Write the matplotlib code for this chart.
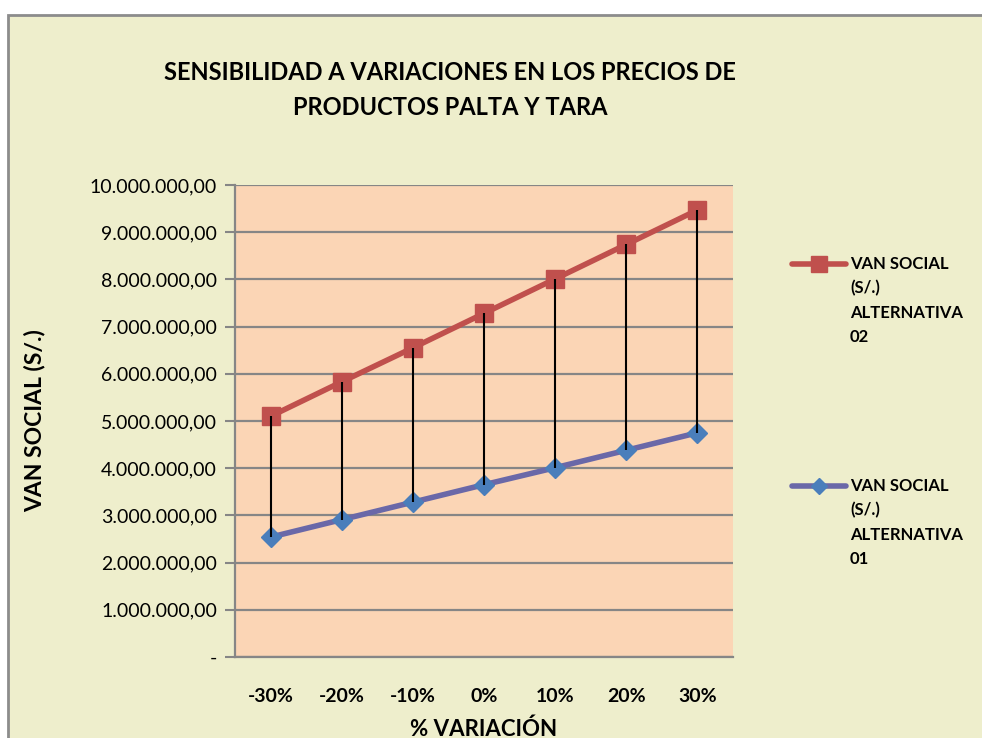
import matplotlib.pyplot as plt
from matplotlib.lines import Line2D
from matplotlib.patches import Rectangle
from matplotlib.ticker import FuncFormatter

variaciones = ['-30%', '-20%', '-10%', '0%', '10%', '20%', '30%']
van_alt02 = [5.10e6, 5.83e6, 6.55e6, 7.28e6, 8.01e6, 8.74e6, 9.47e6]
van_alt01 = [2.54e6, 2.91e6, 3.28e6, 3.65e6, 4.01e6, 4.38e6, 4.75e6]
y_ticks = [0, 1e6, 2e6, 3e6, 4e6, 5e6, 6e6, 7e6, 8e6, 9e6, 10e6]
label_alt02 = ['VAN SOCIAL', '(S/.)', 'ALTERNATIVA', '02']
label_alt01 = ['VAN SOCIAL', '(S/.)', 'ALTERNATIVA', '01']

RED = '#c0504d'
BLUE_LINE = '#6a68a8'
BLUE_MARK = '#4a7ebb'
CHART_BG = '#eeeecc'
PLOT_BG = '#fbd5b5'
GRID = '#868686'


def fmt_value(v, _):
    if v == 0:
        return '-'
    s = f'{v:,.2f}'
    return s.replace(',', 'X').replace('.', ',').replace('X', '.')


def main():
    plt.rcParams['font.family'] = ['Lato', 'DejaVu Sans']
    fig = plt.figure(figsize=(9.82, 7.38), dpi=100, facecolor='white')

    # chart area (Excel-style frame)
    fig.patches.append(Rectangle((8 / 982, -0.1), 1.1, 1 - 15 / 738 + 0.1,
                                 transform=fig.transFigure, facecolor=CHART_BG,
                                 edgecolor='#8c8c8c', linewidth=2, zorder=-5))

    ax = fig.add_axes([235 / 982, 1 - 657 / 738, 498 / 982, 472 / 738])
    ax.set_facecolor(PLOT_BG)
    x = list(range(len(variaciones)))

    ax.vlines(x, van_alt01, van_alt02, colors='black', linewidth=1.5, zorder=4)
    ax.plot(x, van_alt02, color=RED, linewidth=4, marker='s', markersize=13,
            markerfacecolor=RED, markeredgecolor=RED, zorder=3)
    ax.plot(x, van_alt01, color=BLUE_LINE, linewidth=4, marker='D',
            markersize=10, markerfacecolor=BLUE_MARK,
            markeredgecolor=BLUE_MARK, zorder=3)

    ax.set_xlim(-0.5, len(variaciones) - 0.5)
    ax.set_ylim(0, 10e6)
    ax.set_yticks(y_ticks)
    ax.yaxis.set_major_formatter(FuncFormatter(fmt_value))
    ax.set_xticks(x)
    ax.set_xticklabels(variaciones, fontweight='bold', fontsize=14)
    ax.tick_params(axis='x', length=0, pad=22)
    ax.tick_params(axis='y', length=7, width=1.5, color=GRID, pad=6,
                   labelsize=14)
    ax.grid(axis='y', color=GRID, linewidth=1.6)
    ax.set_axisbelow(True)
    for side in ['top', 'right']:
        ax.spines[side].set_visible(False)
    for side in ['left', 'bottom']:
        ax.spines[side].set_color(GRID)
        ax.spines[side].set_linewidth(1.6)

    ax.set_xlabel('% VARIACIÓN', fontweight='bold', fontsize=16, labelpad=10)
    ax.set_ylabel('VAN SOCIAL (S/.)', fontweight='bold', fontsize=16.5,
                  va='center')
    ax.yaxis.set_label_coords(-200 / 498, 0.5)

    fig.text(450 / 982, 1 - 90 / 738,
             'SENSIBILIDAD A VARIACIONES EN LOS PRECIOS DE\nPRODUCTOS PALTA Y TARA',
             ha='center', va='center', fontweight='bold', fontsize=17,
             linespacing=1.6)

    # legend drawn by hand so the key lines up with the first text line
    for labels, color, mcolor, marker, msize, y0 in [
            (label_alt02, RED, RED, 's', 11, 264),
            (label_alt01, BLUE_LINE, BLUE_MARK, 'D', 8, 486)]:
        fig.add_artist(Line2D([792 / 982, 846 / 982], [1 - y0 / 738] * 2,
                              color=color, linewidth=4,
                              solid_capstyle='round'))
        fig.add_artist(Line2D([819 / 982], [1 - y0 / 738], marker=marker,
                              markersize=msize, color=mcolor))
        for i, line in enumerate(labels):
            fig.text(850 / 982, 1 - (y0 + i * 24.5) / 738, line,
                     ha='left', va='center', fontweight='bold', fontsize=12)

    fig.savefig('out.png', dpi=100, facecolor='white')


if __name__ == '__main__':
    main()
